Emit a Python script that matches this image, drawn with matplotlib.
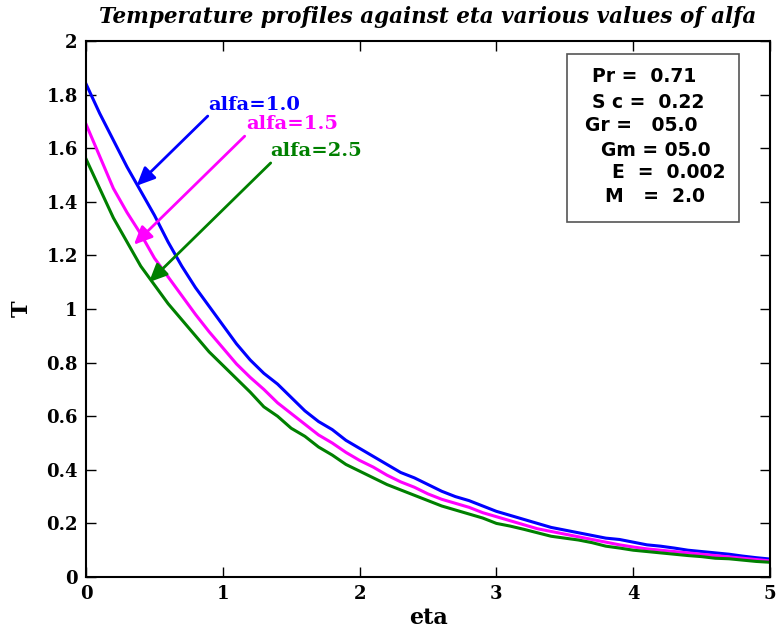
import numpy as np
import matplotlib
matplotlib.use("Agg")
import matplotlib.pyplot as plt
from matplotlib.patches import Rectangle

# temperature profiles T(eta) for three values of alfa, eta = 0..5 step 0.1
eta = np.round(np.arange(0, 5.001, 0.1), 1)
T_alfa10 = [1.84, 1.73, 1.63, 1.53, 1.44, 1.35, 1.25, 1.16, 1.08, 1.01,
            0.94, 0.87, 0.81, 0.76, 0.72, 0.67, 0.62, 0.58, 0.55, 0.51,
            0.48, 0.45, 0.42, 0.39, 0.37, 0.345, 0.32, 0.30, 0.285, 0.265,
            0.245, 0.23, 0.215, 0.20, 0.185, 0.175, 0.165, 0.155, 0.145, 0.14,
            0.13, 0.12, 0.115, 0.108, 0.10, 0.095, 0.09, 0.085, 0.078, 0.072,
            0.067]
T_alfa15 = [1.69, 1.57, 1.45, 1.36, 1.28, 1.19, 1.12, 1.05, 0.98, 0.915,
            0.855, 0.795, 0.745, 0.70, 0.65, 0.61, 0.57, 0.53, 0.50, 0.465,
            0.435, 0.41, 0.38, 0.355, 0.335, 0.31, 0.29, 0.275, 0.26, 0.24,
            0.225, 0.21, 0.195, 0.18, 0.17, 0.16, 0.15, 0.14, 0.13, 0.12,
            0.112, 0.105, 0.10, 0.095, 0.09, 0.085, 0.08, 0.075, 0.07, 0.065,
            0.06]
T_alfa25 = [1.56, 1.45, 1.34, 1.25, 1.16, 1.09, 1.02, 0.96, 0.90, 0.84,
            0.79, 0.74, 0.69, 0.635, 0.60, 0.555, 0.525, 0.485, 0.455, 0.42,
            0.395, 0.37, 0.345, 0.325, 0.305, 0.285, 0.265, 0.25, 0.235, 0.22,
            0.20, 0.19, 0.178, 0.165, 0.152, 0.145, 0.138, 0.128, 0.115, 0.108,
            0.10, 0.095, 0.09, 0.085, 0.08, 0.076, 0.07, 0.068, 0.063, 0.058,
            0.055]

params = ["Pr =  0.71", "S c =  0.22", "Gr =   05.0", "Gm = 05.0", "E  =  0.002", "M   =  2.0"]

serif = "DejaVu Serif"

fig = plt.figure(figsize=(7.77, 6.37), dpi=100)
ax = fig.add_axes([0.1107, 0.0942, 0.8803, 0.8414])

ax.plot(eta, T_alfa10, color=(0, 0, 1), lw=2.2)
ax.plot(eta, T_alfa15, color=(1, 0, 1), lw=2.2)
ax.plot(eta, T_alfa25, color=(0, 0.5, 0), lw=2.2)

# labels with arrows pointing at each curve
labels = [("alfa=1.0", (0, 0, 1), (0.89, 1.72), (0.37, 1.46), (0.89, 1.76)),
          ("alfa=1.5", (1, 0, 1), (1.16, 1.645), (0.35, 1.24), (1.17, 1.69)),
          ("alfa=2.5", (0, 0.5, 0), (1.35, 1.545), (0.46, 1.10), (1.35, 1.59))]
for txt, c, tail, head, pos in labels:
    ax.annotate("", xy=head, xytext=tail,
                arrowprops=dict(arrowstyle="-|>,head_length=1.1,head_width=0.5",
                                color=c, lw=2, shrinkA=0, shrinkB=0))
    ax.text(pos[0], pos[1], txt, color=c, fontsize=14, fontweight="bold",
            family=serif, ha="left", va="center")

# parameter box
ax.add_patch(Rectangle((0.703, 0.662), 0.252, 0.314, transform=ax.transAxes,
                       fill=False, edgecolor="#555555", lw=1.2))
xs = [592, 592, 585, 601, 612, 605]
ys = [77, 102, 125, 150, 173, 197]
for s, xp, yp in zip(params, xs, ys):
    fig.text(xp / 777, 1 - yp / 637, s, fontsize=13.5, fontweight="bold",
             family="DejaVu Sans", ha="left", va="center")

ax.set_xlim(0, 5)
ax.set_ylim(0, 2)
ax.set_xticks(range(6))
ax.set_yticks(np.arange(0, 2.01, 0.2))
ax.set_yticklabels(["0", "0.2", "0.4", "0.6", "0.8", "1", "1.2", "1.4", "1.6", "1.8", "2"])
ax.tick_params(direction="in", length=7, width=1, top=True, right=True, pad=6)
for lab in ax.get_xticklabels() + ax.get_yticklabels():
    lab.set_fontfamily(serif)
    lab.set_fontweight("bold")
    lab.set_fontsize(13)
for sp in ax.spines.values():
    sp.set_linewidth(1.5)

ax.set_xlabel("eta", family=serif, fontweight="bold", fontsize=16, labelpad=3)
ax.set_ylabel("T", family=serif, fontweight="bold", fontsize=16, labelpad=10)
ax.set_title("Temperature profiles against eta various values of alfa",
             family=serif, fontweight="bold", style="italic", fontsize=15.5, pad=13)

fig.savefig("out.png", dpi=100)
